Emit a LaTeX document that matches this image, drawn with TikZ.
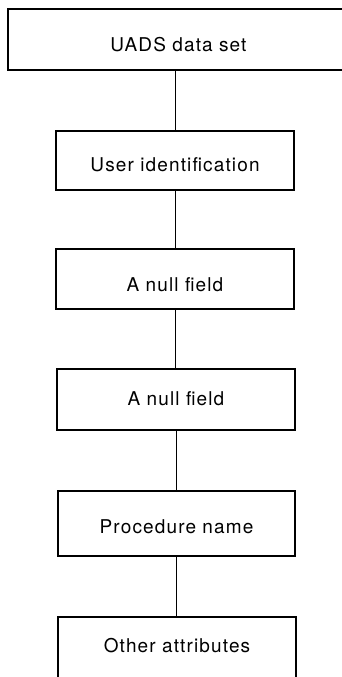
\documentclass[tikz,border=0pt]{standalone}
\usepackage{fontspec}
\setmainfont{TeX Gyre Heros}[LetterSpace=6]
\begin{document}
\begin{tikzpicture}[x=1bp,y=-1bp,
  box/.style={draw, line width=1.3bp, inner sep=0pt, anchor=base, align=center,
    font=\fontsize{19bp}{21bp}\selectfont},
  link/.style={line width=0.9bp}]
\useasboundingbox (0,0) rectangle (341,677);
\node[box, text width=392bp, text height=43bp, text depth=18bp] (b1) at (204,52) {\hspace*{-51bp}UADS data set};
\node[box, text width=238bp, text height=40bp, text depth=19bp] (b2) at (175,171) {User identification};
\node[box, text width=238bp, text height=42bp, text depth=18bp] (b3) at (175,291) {A null field};
\node[box, text width=238bp, text height=36bp, text depth=25bp] (b4) at (176,405) {A null field};
\node[box, text width=237bp, text height=42bp, text depth=23bp] (b5) at (176.5,533) {Procedure name};
\node[box, text width=238bp, text height=35bp, text depth=48bp] (b6) at (177,652) {Other attributes};
\draw[link, line width=0.6bp] (b2.north |- b1.south) -- (b2.north);
\draw[link] (b2.south) -- (b2.south |- b3.north);
\draw[link] (b3.south) -- (b3.south |- b4.north);
\draw[link] (b4.south) -- (b4.south |- b5.north);
\draw[link] (b5.south) -- (b5.south |- b6.north);
\end{tikzpicture}
\end{document}
